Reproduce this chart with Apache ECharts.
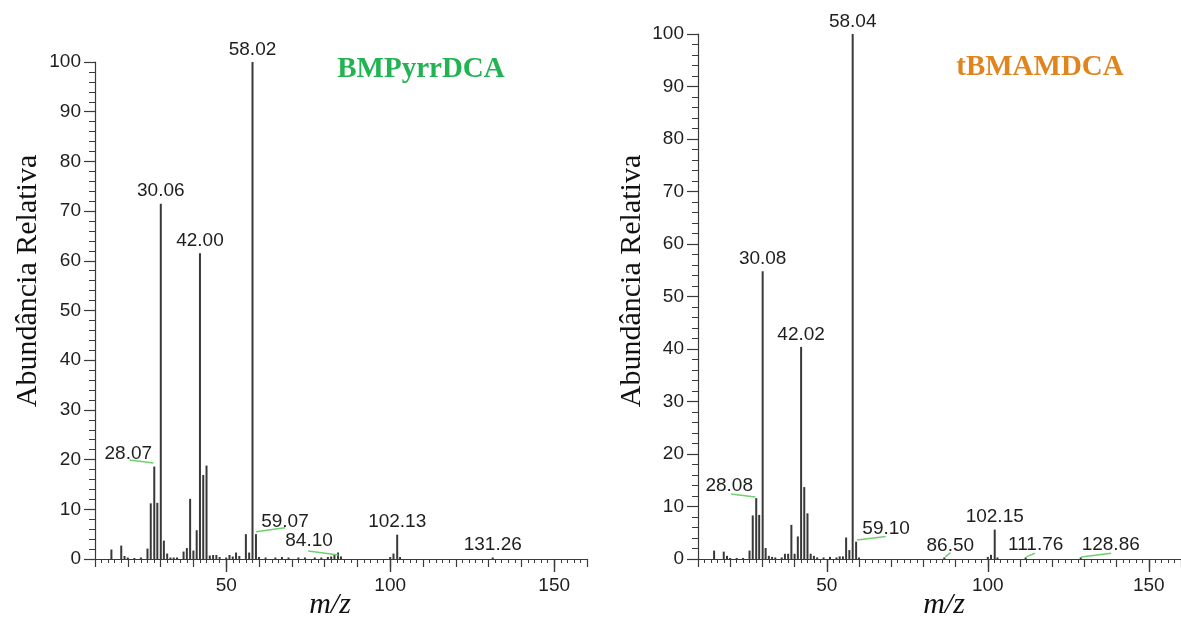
<!DOCTYPE html>
<html>
<head>
<meta charset="utf-8">
<script src="https://cdn.jsdelivr.net/npm/echarts@6/dist/echarts.min.js"></script>
<style>
  html, body { margin: 0; padding: 0; background: #fff; }
  #chart { width: 1181px; height: 618px; }
</style>
</head>
<body>
<div id="chart"></div>
<script>
// Mass spectra of the two ionic liquids (m/z vs. relative abundance, %)
const titles = ['BMPyrrDCA', 'tBMAMDCA'];
const titleColors = ['#22b352', '#e0841e'];
const yAxisTitle = 'Abundância Relativa';
const xAxisTitle = 'm/z';
const majorXTicks = [50, 100, 150];

// BMPyrrDCA peaks: [m/z, abundance]
const peaksBMPyrr = [
  [15, 1.9], [18, 2.7], [19, 0.6], [20, 0.3], [22, 0.2], [24, 0.3],
  [26, 2.1], [27, 11.2], [28.07, 18.6], [29, 11.3], [30.06, 71.5], [31, 3.7],
  [32, 1.1], [33, 0.3], [34, 0.3], [35, 0.3], [37, 1.5], [38, 2.2],
  [39, 12.1], [40, 1.7], [41, 5.8], [42.00, 61.5], [43, 16.9], [44, 18.8],
  [45, 0.7], [46, 0.8], [47, 0.8], [48, 0.4], [50, 0.3], [51, 0.8],
  [52, 0.5], [53, 1.3], [54, 0.6], [56, 5.0], [57, 1.3], [58.02, 100],
  [59.07, 5.0], [60, 0.4], [62, 0.3], [65, 0.3], [67, 0.4], [69, 0.3],
  [72, 0.3], [74, 0.3], [77, 0.3], [79, 0.3], [81, 0.4], [82, 0.5],
  [83, 0.9], [84.10, 1.3], [85, 0.5], [100, 0.4], [101, 1.1], [102.13, 4.9],
  [103, 0.4], [131.26, 0.3]
];
const labelledBMPyrr = [28.07, 30.06, 42.00, 58.02, 59.07, 84.10, 102.13, 131.26];

// tBMAMDCA peaks: [m/z, abundance]
const peaksTBMAM = [
  [15, 1.6], [18, 1.4], [19, 0.6], [20, 0.2], [22, 0.2], [24, 0.2],
  [26, 1.6], [27, 8.3], [28.08, 11.6], [29, 8.4], [30.08, 54.8], [31, 2.1],
  [32, 0.6], [33, 0.4], [34, 0.3], [36, 0.3], [37, 1.0], [38, 1.0],
  [39, 6.5], [40, 1.0], [41, 4.3], [42.02, 40.4], [43, 13.7], [44, 8.7],
  [45, 1.0], [46, 0.6], [47, 0.3], [49, 0.3], [51, 0.4], [53, 0.3],
  [54, 0.5], [55, 0.5], [56, 4.1], [57, 1.7], [58.04, 100], [59.10, 3.3],
  [60, 0.3], [86.50, 0.3], [100, 0.4], [101, 0.8], [102.15, 5.6], [103, 0.3],
  [111.76, 0.3], [128.86, 0.3]
];
const labelledTBMAM = [28.08, 30.08, 42.02, 58.04, 59.10, 86.50, 102.15, 111.76, 128.86];

// Leader lines from displaced labels to their peaks: [x1, y1, x2, y2] in m/z and %
const leadersBMPyrr = [
  [20.5, 19.9, 27.8, 19.3],
  [59.1, 5.5, 67.9, 6.3],
  [75.0, 1.6, 84.2, 0.8]
];
const leadersTBMAM = [
  [20.3, 12.4, 27.8, 11.8],
  [59.4, 3.6, 68.3, 4.3],
  [86.8, 0.4, 88.4, 1.2],
  [112.0, 0.4, 114.6, 1.1],
  [129.0, 0.4, 138.3, 1.1]
];

// pixel nudges for labels that sit beside their peak
const labelShift = {
  28.07: [-26, 0], 59.07: [29, 0], 84.10: [-29, 1],
  28.08: [-27, 0], 59.10: [30, 0], 86.50: [6, 1], 111.76: [10, 0], 128.86: [30, 0]
};

const SANS = '"Liberation Sans", Arial, sans-serif';
const SERIF = '"Liberation Serif", "Times New Roman", serif';
const INK = '#1e1e1e';
const AXIS = '#3a3a3a';

function barData(peaks, labelled) {
  return peaks.map(([mz, v]) => {
    const item = { value: [mz, v] };
    if (labelled.includes(mz)) {
      item.label = {
        show: true, position: 'top', distance: 3,
        offset: labelShift[mz] || [0, 0],
        formatter: () => mz.toFixed(2),
        fontFamily: SANS, fontSize: 19, color: INK
      };
    }
    return item;
  });
}

function leaderData(leaders) {
  const out = [];
  leaders.forEach(([x1, y1, x2, y2], i) => {
    if (i > 0) out.push([null, null]);
    out.push([x1, y1], [x2, y2]);
  });
  return out;
}

const grids = [
  { left: 95, top: 62, width: 492, height: 497 },
  { left: 698, top: 34, width: 485, height: 525 }
];

const xAxes = [];
const yAxes = [];
grids.forEach((g, i) => {
  // 10-unit ticks with 2-unit minor ticks
  xAxes.push({
    type: 'value', gridIndex: i, position: 'bottom', min: 10, max: 160, interval: 10,
    axisLine: { show: true, onZero: false, lineStyle: { color: AXIS, width: 1.2 } },
    axisTick: { show: true, length: 8, lineStyle: { color: AXIS, width: 1.2 } },
    minorTick: { show: true, splitNumber: 5, length: 4, lineStyle: { color: AXIS, width: 1 } },
    axisLabel: { show: false },
    splitLine: { show: false }, minorSplitLine: { show: false }
  });
  // long ticks and labels every 50
  xAxes.push({
    type: 'value', gridIndex: i, position: 'bottom', offset: 0, min: 10, max: 160,
    axisLine: { show: false, onZero: false },
    axisTick: { show: true, length: 13, customValues: majorXTicks, lineStyle: { color: AXIS, width: 1.4 } },
    axisLabel: { show: true, customValues: majorXTicks, margin: 17, fontFamily: SANS, fontSize: 19, color: INK },
    splitLine: { show: false }
  });
  yAxes.push({
    type: 'value', gridIndex: i, position: 'left', min: 0, max: 100, interval: 10,
    axisLine: { show: true, onZero: false, lineStyle: { color: AXIS, width: 1.2 } },
    axisTick: { show: true, length: 11, lineStyle: { color: AXIS, width: 1.2 } },
    minorTick: { show: true, splitNumber: 5, length: 6, lineStyle: { color: AXIS, width: 1 } },
    axisLabel: { margin: 14, fontFamily: SANS, fontSize: 19, color: INK },
    splitLine: { show: false }, minorSplitLine: { show: false }
  });
});

const spectra = [
  { peaks: peaksBMPyrr, labelled: labelledBMPyrr, leaders: leadersBMPyrr },
  { peaks: peaksTBMAM, labelled: labelledTBMAM, leaders: leadersTBMAM }
];

const series = [];
spectra.forEach((s, i) => {
  series.push({
    type: 'bar', xAxisIndex: i * 2, yAxisIndex: i,
    barWidth: 2, itemStyle: { color: '#383838' },
    data: barData(s.peaks, s.labelled),
    silent: true, animation: false
  });
  series.push({
    type: 'line', xAxisIndex: i * 2, yAxisIndex: i,
    data: leaderData(s.leaders), symbol: 'none', connectNulls: false,
    lineStyle: { color: '#6fd06f', width: 1.5 },
    silent: true, animation: false
  });
});

const chart = echarts.init(document.getElementById('chart'), null, { renderer: 'canvas' });
chart.setOption({
  backgroundColor: '#ffffff',
  animation: false,
  grid: grids,
  xAxis: xAxes,
  yAxis: yAxes,
  series: series,
  graphic: [
    { type: 'text', x: 421, y: 70, style: { text: titles[0], fill: titleColors[0], font: 'bold 29px ' + SERIF, textAlign: 'center', textVerticalAlign: 'middle' } },
    { type: 'text', x: 1040, y: 68, style: { text: titles[1], fill: titleColors[1], font: 'bold 29px ' + SERIF, textAlign: 'center', textVerticalAlign: 'middle' } },
    { type: 'text', x: 28, y: 281, rotation: Math.PI / 2, style: { text: yAxisTitle, fill: '#111', font: '30px ' + SERIF, textAlign: 'center', textVerticalAlign: 'middle' } },
    { type: 'text', x: 632, y: 281, rotation: Math.PI / 2, style: { text: yAxisTitle, fill: '#111', font: '30px ' + SERIF, textAlign: 'center', textVerticalAlign: 'middle' } },
    { type: 'text', x: 330, y: 605, style: { text: xAxisTitle, fill: '#111', font: 'italic 30px ' + SERIF, textAlign: 'center', textVerticalAlign: 'middle' } },
    { type: 'text', x: 944, y: 605, style: { text: xAxisTitle, fill: '#111', font: 'italic 30px ' + SERIF, textAlign: 'center', textVerticalAlign: 'middle' } }
  ]
});
</script>
</body>
</html>
